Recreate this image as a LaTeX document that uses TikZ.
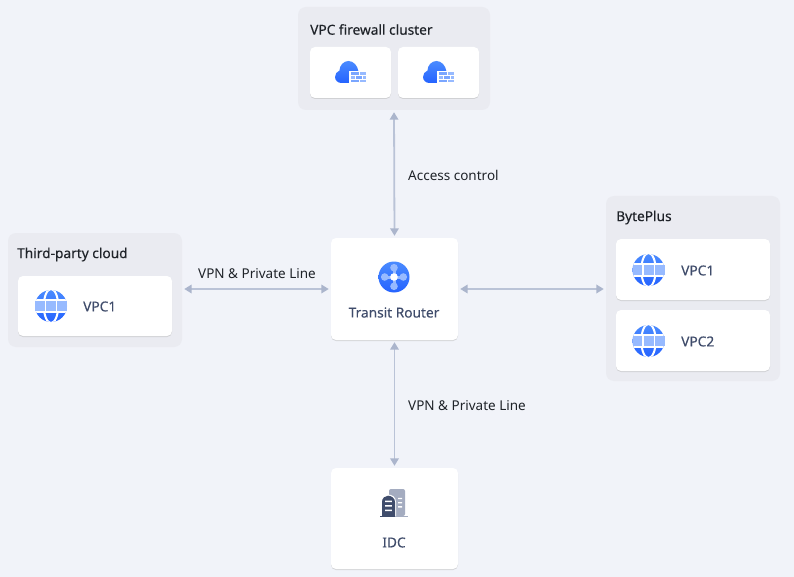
\documentclass[tikz,border=0pt]{standalone}
\usepackage{fontspec}
\newfontfamily\medfont[FakeBold=0.25]{Noto Sans}
\setmainfont{Noto Sans}
\usetikzlibrary{shadows,arrows.meta}
\definecolor{pagebg}{HTML}{F1F3F9}
\definecolor{groupbg}{HTML}{EAEBF1}
\definecolor{titleink}{HTML}{1F2329}
\definecolor{cardink}{HTML}{3F4C6B}
\definecolor{linkcol}{HTML}{BAC3D7}
\definecolor{tipcol}{HTML}{ABB5CC}
\definecolor{blueA}{HTML}{4A8BFF}
\definecolor{blueB}{HTML}{2563FF}
\definecolor{blueL}{HTML}{97BAFF}
\definecolor{blueM}{HTML}{7AA6FF}
\definecolor{towerL}{HTML}{A4ACC0}
\tikzset{
  groupbox/.style={fill=groupbg,rounded corners=8pt,inner sep=0pt,minimum width=#1},
  cardbox/.style={fill=white,rounded corners=5pt,inner sep=0pt,minimum width=#1,
    drop shadow={shadow xshift=0pt,shadow yshift=-1pt,fill=black!30,opacity=.45}},
  title/.style={anchor=west,inner sep=0pt,text=titleink,font=\medfont\fontsize{13.7}{16}\selectfont},
  cardtext/.style={inner sep=0pt,text=cardink,font=\medfont\fontsize{13.7}{16}\selectfont},
  linktext/.style={anchor=west,inner sep=0pt,text=titleink,font=\fontsize{13.5}{16}\selectfont},
  link/.style={draw=linkcol,line width=1.8pt,shorten >=2pt,shorten <=2pt,
    {Triangle[length=7.5pt,width=8.5pt,color=tipcol]}-{Triangle[length=7.5pt,width=8.5pt,color=tipcol]}},
  globe/.pic={
    \begin{scope}
      \clip (0,0) circle (16pt);
      \shade[top color=blueA,bottom color=blueB] (-16,-16) rectangle (16,16);
      \draw[white,line width=2pt] (0,0) ellipse (7.2pt and 17pt);
      \fill[white] (-17,-6.6) rectangle (17,6.6);
    \end{scope}
    \fill[blueL] (-16,-5) rectangle (-6.4,5);
    \fill[blueL] (-5,-5) rectangle (5,5);
    \fill[blueL] (6.4,-5) rectangle (16,5);
  },
  firewall/.pic={
    \shade[top color=blueA,bottom color=blueB]
      (-9,10.5) .. controls (-13,10.5) and (-15.5,7.5) .. (-15.5,4.5)
      .. controls (-15.5,1.5) and (-13.5,-1) .. (-11,-2)
      .. controls (-11,-7) and (-7,-11.5) .. (-2,-11.5)
      .. controls (3,-11.5) and (7,-7) .. (8,-1)
      -- (8,10.5) -- cycle;
    \fill[white] (-1.5,-1.5) rectangle (15.5,11);
    \fill[blueM] (0,0) rectangle (8,2.6);
    \fill[blueL] (9,0) rectangle (15.5,2.6);
    \fill[blueL] (0,3.6) rectangle (4,6.2);
    \fill[blueM] (5,3.6) rectangle (11,6.2);
    \fill[blueL] (12,3.6) rectangle (15.5,6.2);
    \fill[blueM] (0,7.2) rectangle (8,9.8);
    \fill[blueL] (9,7.2) rectangle (15.5,9.8);
  },
  hub/.pic={
    \shade[top color=blueA,bottom color=blueB] (0,0) circle (15.5pt);
    \draw[blueL,line width=3pt] (-9,0) -- (9,0) (0,-9) -- (0,9);
    \fill[blueL] (-9.3,0) circle (3.8pt) (9.3,0) circle (3.8pt)
                 (0,-9.3) circle (3.8pt) (0,9.3) circle (3.8pt);
    \fill[white] (0,0) circle (3.8pt);
  },
  towers/.pic={
    \fill[towerL,rounded corners=2pt] (-5,16) -- (-5,-11) -- (11,-11) -- (11,16) -- cycle;
    \fill[towerL] (-14,16) rectangle (14,17);
    \fill[white] (-13,16) -- (-13,2) .. controls (-13,-3) and (-9,-5.5) .. (-6,-5.5)
      .. controls (-2,-5.5) and (2,-3) .. (2,2) -- (2,16) -- cycle;
    \fill[cardink] (-12,16) -- (-12,2) .. controls (-12,-2) and (-9,-4.3) .. (-6,-4.3)
      .. controls (-3,-4.3) and (1,-2) .. (1,2) -- (1,16) -- cycle;
    \fill[cardink] (-14,16) rectangle (1,17);
    \fill[white] (-8.8,0.5) rectangle (-2.2,2.2) (-8.8,5) rectangle (-2.2,6.7)
                 (-8.8,9.5) rectangle (-2.2,11.2);
    \fill[white] (4,-2.2) rectangle (8,-0.8) (4,2) rectangle (8,3.4) (4,6.2) rectangle (8,7.6);
  }
}
\begin{document}
\begin{tikzpicture}[x=1pt,y=-1pt]
\useasboundingbox[fill=pagebg] (0,0) rectangle (794,577);

% grouped areas
\node[groupbox=192pt,minimum height=103pt] (fw) at (394,58.5) {};
\node[groupbox=174pt,minimum height=114pt] (tp) at (95,290) {};
\node[groupbox=174pt,minimum height=185pt] (bp) at (693,288.5) {};

% firewall cluster
\node[title] (fwtitle) at (310,29.5) {VPC firewall cluster};
\node[cardbox=81pt,minimum height=51pt] (fwa) at (350.5,72.5) {};
\node[cardbox=81pt,minimum height=51pt] (fwb) at (438.5,72.5) {};
\pic at (fwa) {firewall};
\pic at (fwb) {firewall};

% third-party cloud
\node[title] (tptitle) at (17,254.5) {Third-party cloud};
\node[cardbox=154pt,minimum height=60pt] (tpa) at (95,306) {};
\pic at (51,306) {globe};
\node[cardtext,anchor=west] (tpatext) at (83,306.5) {VPC1};

% BytePlus
\node[title] (bptitle) at (616,217.5) {BytePlus};
\node[cardbox=154pt,minimum height=61pt] (bpa) at (693,269.5) {};
\node[cardbox=154pt,minimum height=61pt] (bpb) at (693,340.5) {};
\pic at (648.5,270) {globe};
\pic at (648.5,341) {globe};
\node[cardtext,anchor=west] (bpatext) at (681,270.5) {VPC1};
\node[cardtext,anchor=west] (bpbtext) at (681,341.5) {VPC2};

% router and data centre
\node[cardbox=127pt,minimum height=102pt] (tr) at (394.5,289) {};
\pic at (394,277) {hub};
\node[cardtext] (trtext) at (394,312.5) {Transit Router};
\node[cardbox=127pt,minimum height=101pt] (idc) at (394.5,518.5) {};
\pic at (394,500) {towers};
\node[cardtext] (idctext) at (394,542.5) {IDC};

% connectors
\draw[link] (fw.south) -- (tr.north);
\draw[link] (tr.south) -- (idc.north);
\draw[link] (tp.east |- tr.west) -- (tr.west);
\draw[link] (tr.east) -- (bp.west |- tr.east);

% connector labels
\node[linktext] (lblac) at (408,175.5) {Access control};
\node[linktext] (lblvl) at (198,273.5) {VPN \& Private Line};
\node[linktext] (lblvb) at (408,405.5) {VPN \& Private Line};
\end{tikzpicture}
\end{document}
